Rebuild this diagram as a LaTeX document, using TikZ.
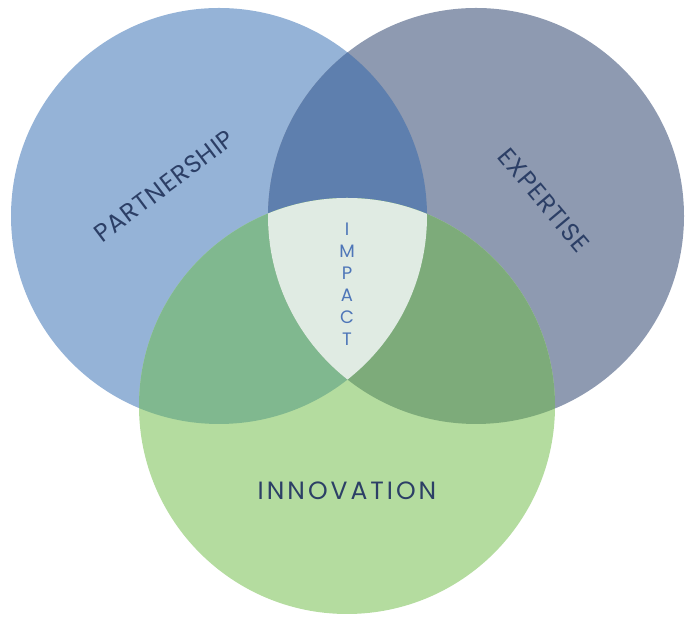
\documentclass[tikz,border=0pt]{standalone}
\usepackage{fontspec}
\newfontfamily\vennfont[LetterSpace=4]{Poppins}
\newfontfamily\vennwide[LetterSpace=12]{Poppins}
\definecolor{partcol}{HTML}{95B3D7}
\definecolor{expcol}{HTML}{8E9AB1}
\definecolor{innocol}{HTML}{B4DC9F}
\definecolor{pecol}{HTML}{5E7FAE}
\definecolor{picol}{HTML}{80B88F}
\definecolor{eicol}{HTML}{7DAB7A}
\definecolor{allcol}{HTML}{E0EBE3}
\definecolor{navy}{HTML}{2C3F66}
\definecolor{impblue}{HTML}{4E76B8}

\begin{document}
\begin{tikzpicture}
[x=1pt,y=1pt
,lbl/.style={text=navy,font=\vennfont\fontsize{25}{28}\selectfont}
,widelbl/.style={lbl,font=\vennwide\fontsize{25}{28}\selectfont}
,imp/.style={text=impblue,align=center,font=\vennfont\fontsize{18}{22}\selectfont}]
\useasboundingbox (0,0) rectangle (685,617);
\coordinate (cp) at (219,401);
\coordinate (ce) at (476,401);
\coordinate (ci) at (347,211);
\fill[partcol] (cp) circle (208);
\fill[expcol] (ce) circle (208);
\fill[innocol] (ci) circle (208);
\begin{scope}
\clip (cp) circle (208);
\fill[pecol] (ce) circle (208);
\fill[picol] (ci) circle (208);
\end{scope}
\begin{scope}
\clip (ce) circle (208);
\fill[eicol] (ci) circle (208);
\clip (cp) circle (208);
\fill[allcol] (ci) circle (208);
\end{scope}
\node[lbl,rotate=37] (part) at (164,431) {PARTNERSHIP};
\node[lbl,rotate=-50] (exp) at (544,417) {EXPERTISE};
\node[widelbl] (inno) at (347,126) {INNOVATION};
\node[imp] (impact) at (347,333) {I\\M\\P\\A\\C\\T};
\end{tikzpicture}
\end{document}
